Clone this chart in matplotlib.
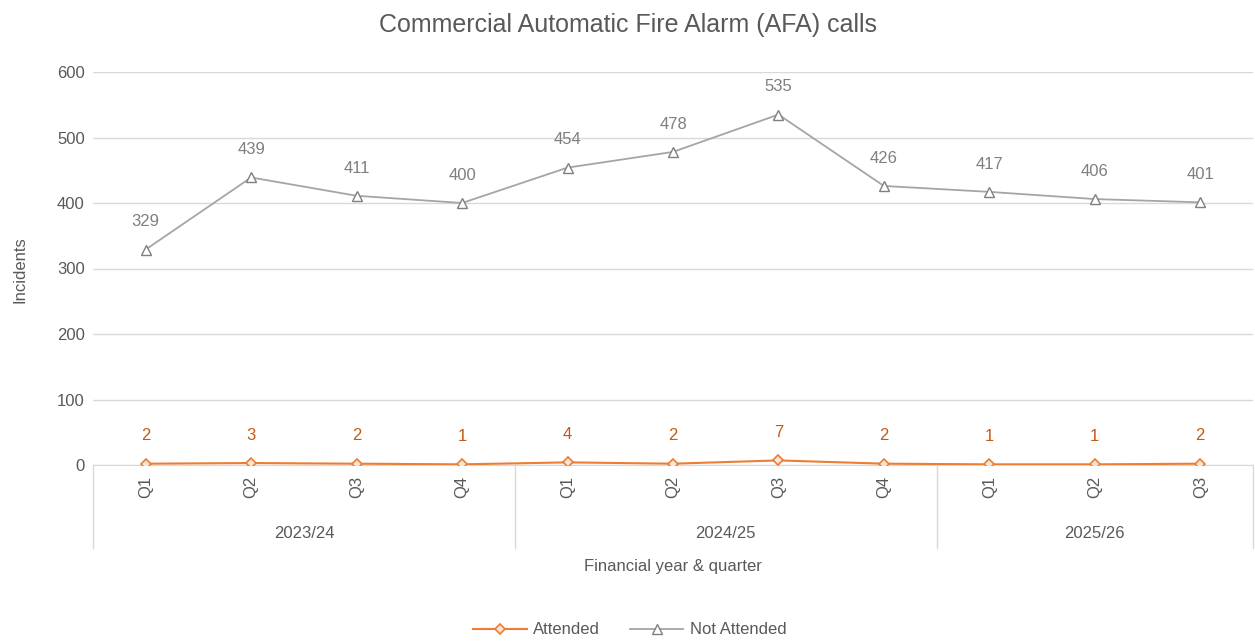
import numpy as np
import matplotlib.pyplot as plt

years = ["2023/24", "2024/25", "2025/26"]
quarters = ["Q1", "Q2", "Q3", "Q4", "Q1", "Q2", "Q3", "Q4", "Q1", "Q2", "Q3"]
year_len = [4, 4, 3]
attended = [2, 3, 2, 1, 4, 2, 7, 2, 1, 1, 2]
not_attended = [329, 439, 411, 400, 454, 478, 535, 426, 417, 406, 401]

orange = "#ED7D31"
grey = "#A5A5A5"
txt = "#595959"

plt.rcParams['font.family'] = ['Liberation Sans', 'DejaVu Sans']

fig = plt.figure(figsize=(12.55, 6.41), dpi=100)
ax = fig.add_axes([93/1255, 1 - 465/641, 1160/1255, 393/641])

x = np.arange(len(quarters))
ax.plot(x, attended, color=orange, lw=1.5, marker="D", ms=5.5,
        mfc="#FBE5D6", mec=orange, mew=1.2, label="Attended", zorder=3)
ax.plot(x, not_attended, color=grey, lw=1.3, marker="^", ms=6.5,
        mfc="white", mec="#7F7F7F", mew=1.0, label="Not Attended", zorder=3)

for xi, v in zip(x, attended):
    ax.annotate(str(v), (xi, v), xytext=(0, 20), textcoords="offset points",
                ha="center", va="center", fontsize=12, color="#C55A11")
for xi, v in zip(x, not_attended):
    ax.annotate(str(v), (xi, v), xytext=(0, 20), textcoords="offset points",
                ha="center", va="center", fontsize=12, color="#7F7F7F")

ax.set_xlim(-0.5, len(quarters) - 0.5)
ax.set_ylim(0, 600)
ax.set_yticks(range(0, 601, 100))
ax.tick_params(axis="y", length=0, labelsize=12, labelcolor=txt, pad=6)
ax.grid(axis="y", color="#D9D9D9", lw=1)
ax.set_axisbelow(True)
for s in ["top", "right", "left"]:
    ax.spines[s].set_visible(False)
ax.spines["bottom"].set_color("#D9D9D9")

ax.set_xticks(x)
ax.set_xticklabels(quarters, rotation=90, fontsize=12, color=txt)
ax.tick_params(axis="x", length=0, pad=8)

# year group separators and labels
start = 0
bounds = [-0.5]
for n in year_len:
    start += n
    bounds.append(start - 0.5)
trans = ax.get_xaxis_transform()
sep_bottom = -(548 - 465) / 393
for b in bounds:
    ax.plot([b, b], [0, sep_bottom], transform=trans, color="#D9D9D9",
            lw=1, clip_on=False)
for i, yname in enumerate(years):
    mid = (bounds[i] + bounds[i + 1]) / 2
    ax.text(mid, -(533 - 465) / 393, yname, transform=trans, ha="center",
            va="center", fontsize=12, color=txt)

ax.text(0.5, -(567 - 465) / 393, "Financial year & quarter", transform=ax.transAxes,
        ha="center", va="center", fontsize=12, color=txt)
fig.text(20/1255, 1 - 270/641, "Incidents", rotation=90, ha="center", va="center",
         fontsize=12, color=txt)
fig.text(628/1255, 1 - 25/641, "Commercial Automatic Fire Alarm (AFA) calls",
         ha="center", va="center", fontsize=18, color=txt)

fig.legend(loc="center", bbox_to_anchor=(630/1255, 1 - 630/641), ncol=2,
           frameon=False, fontsize=12, labelcolor=txt, handlelength=3.2,
           columnspacing=1.8, handletextpad=0.4)

fig.savefig("out.png", dpi=100)
